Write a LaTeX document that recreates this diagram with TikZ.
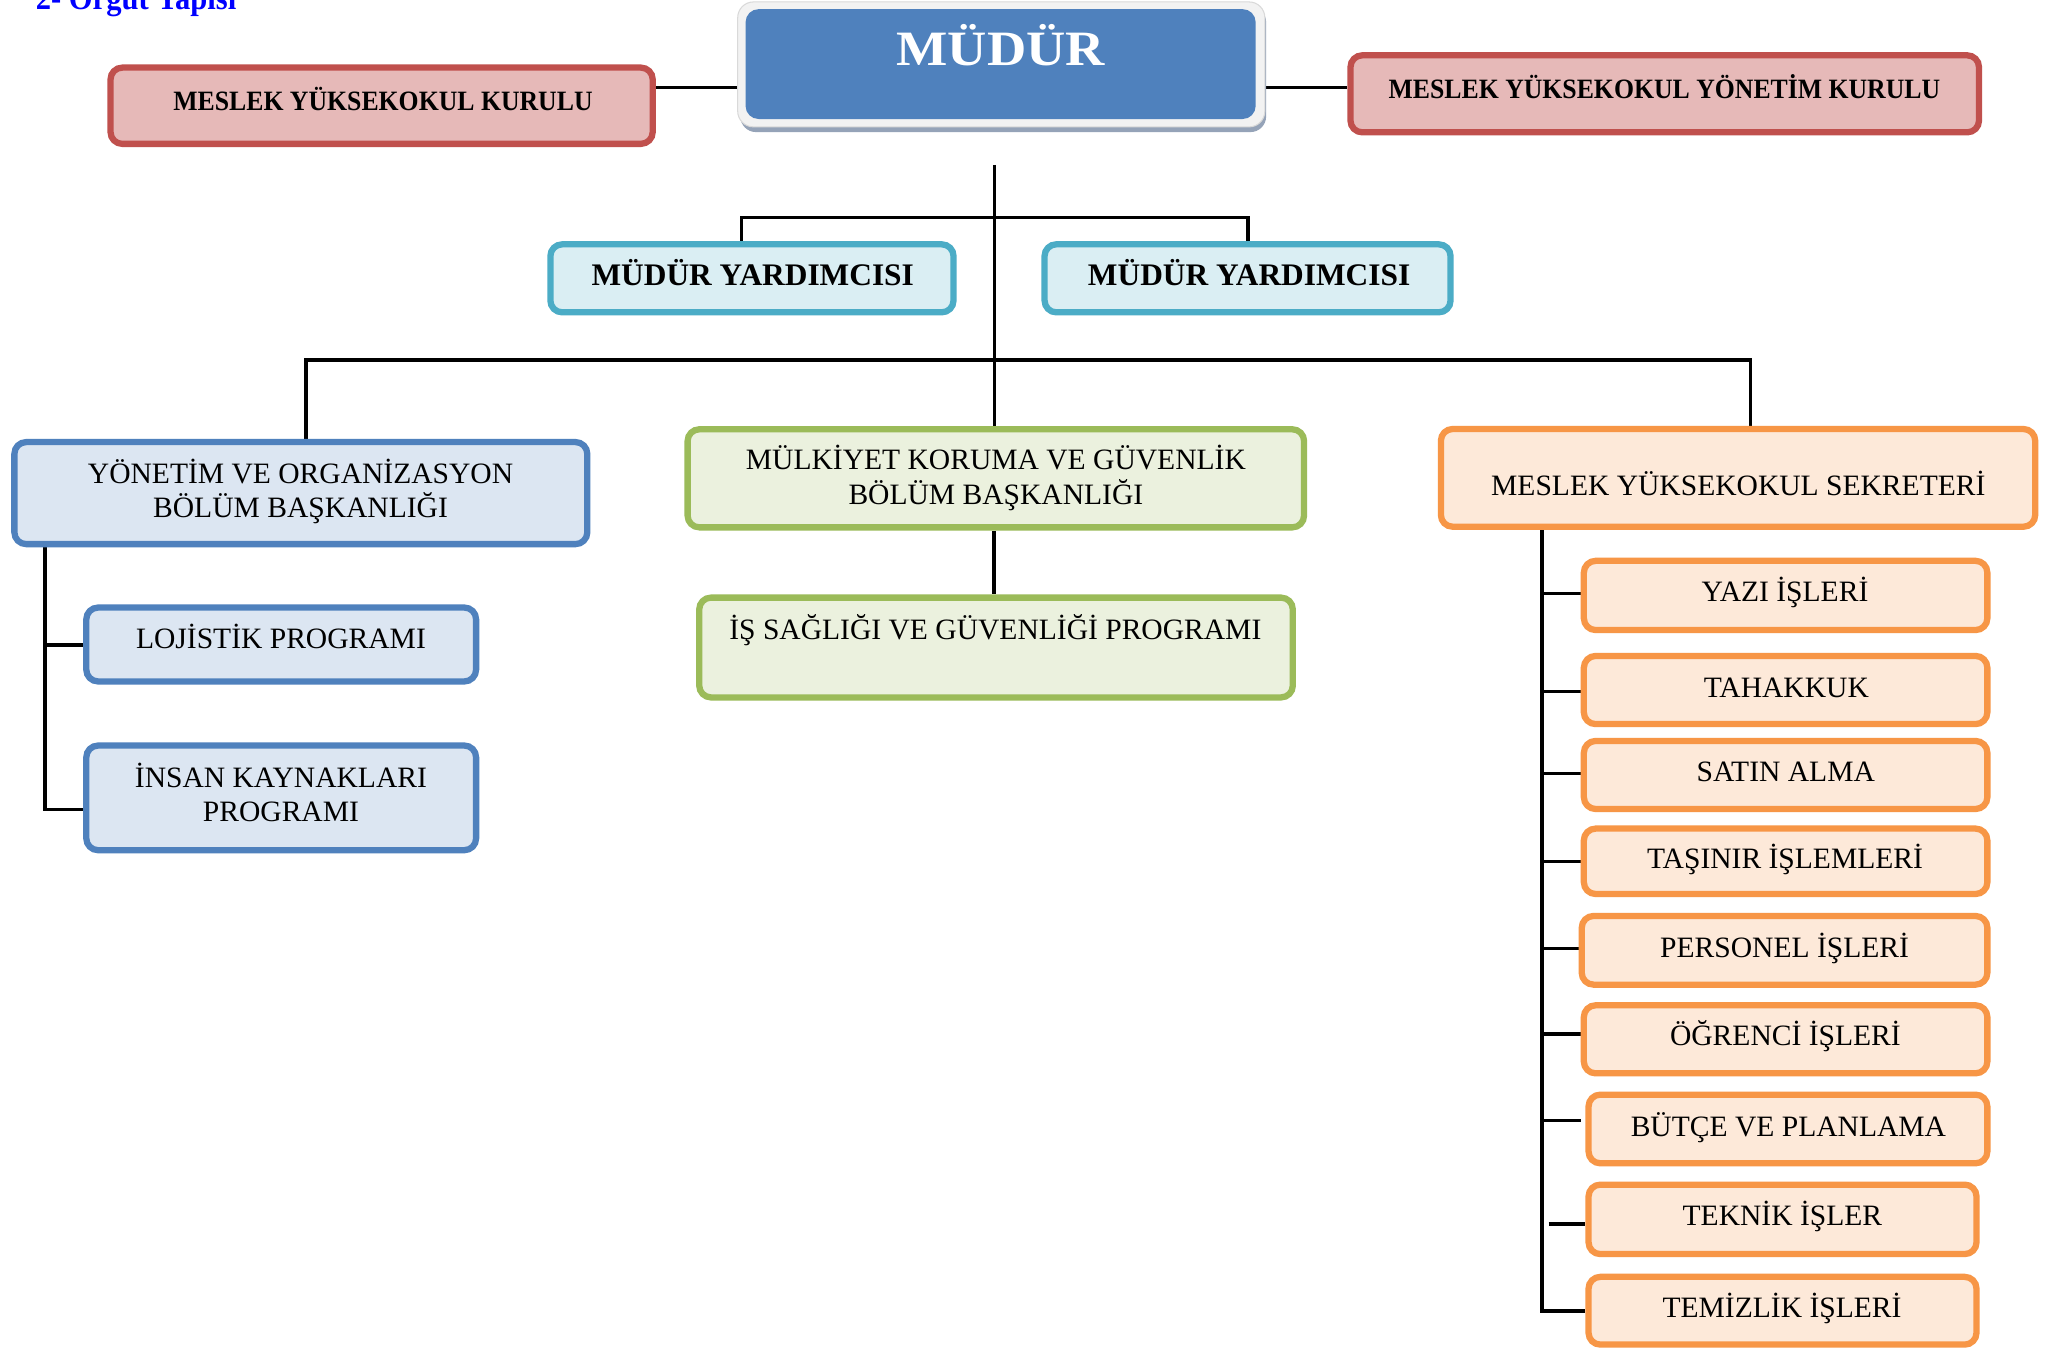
\documentclass[tikz,border=0pt]{standalone}
\usepackage{fontspec}
\setmainfont{Liberation Serif}
\newfontfamily\cbf[FakeStretch=0.92]{Liberation Serif}
\newfontfamily\wbf[FakeStretch=1.1]{Liberation Serif}
\usetikzlibrary{fit}
\pgfdeclarelayer{bottom}
\pgfdeclarelayer{background}
\pgfsetlayers{bottom,background,main}
\definecolor{redB}{HTML}{C0504D}
\definecolor{redF}{HTML}{E6B9B8}
\definecolor{cyaB}{HTML}{4BACC6}
\definecolor{cyaF}{HTML}{DAEEF3}
\definecolor{bluB}{HTML}{4F81BD}
\definecolor{bluF}{HTML}{DCE6F2}
\definecolor{greB}{HTML}{9BBB59}
\definecolor{greF}{HTML}{EBF1DE}
\definecolor{oraB}{HTML}{F79646}
\definecolor{oraF}{HTML}{FDE9D9}
\definecolor{mudB}{HTML}{4F81BD}
\definecolor{frameC}{HTML}{F2F2F2}
\definecolor{frameE}{HTML}{D9D9D9}
\definecolor{shadowC}{HTML}{95A3B8}
\definecolor{titleC}{HTML}{0000FF}
\begin{document}
\begin{tikzpicture}[x=0.5pt,y=-0.5pt,
  bx/.style={draw, rounded corners=4.5pt, line width=2.4pt, inner sep=0pt},
  redbox/.style={bx, draw=redB, fill=redF},
  cyabox/.style={bx, draw=cyaB, fill=cyaF},
  blubox/.style={bx, draw=bluB, fill=bluF},
  grebox/.style={bx, draw=greB, fill=greF},
  orabox/.style={bx, draw=oraB, fill=oraF},
  conn/.style={draw=black, line width=1.3pt},
  txt/.style={inner sep=0pt, anchor=base, font=\fontsize{11.3}{13}\selectfont},
  btxt/.style={inner sep=0pt, anchor=base, font=\cbf\bfseries\fontsize{10.7}{13}\selectfont},
  wtxt/.style={inner sep=0pt, anchor=base, font=\bfseries\fontsize{12}{14}\selectfont},
]
\useasboundingbox (0,0) rectangle (1565,1030.6);
\begin{pgfonlayer}{bottom}
\fill[white] (0,0) rectangle (1565,1030.6);
\end{pgfonlayer}

% title (cut at the top edge)
\node[inner sep=0pt, anchor=base west, text=titleC, font=\cbf\bfseries\fontsize{12.7}{14}\selectfont] (title) at (27,7.5) {2- Örgüt Yapısı};

% MUDUR
\node[fit={(566,5)(968,101)}, inner sep=0pt, fill=shadowC, rounded corners=6pt] (mudsh) {};
\node[fit={(564,1.5)(967,97)}, inner sep=0pt, fill=frameC, draw=frameE, line width=0.4pt, rounded corners=6pt] (mudfr) {};
\node[fit={(570,7)(960,91)}, inner sep=0pt, fill=mudB, rounded corners=5pt] (mud) {};
\node[inner sep=0pt, anchor=base, text=white, font=\wbf\bfseries\fontsize{18.9}{20}\selectfont] (mudt) at (765,50.2) {MÜDÜR};

% top side boxes
\node[redbox, fit={(84.5,51.7)(499,110)}] (kurul) {};
\node[btxt] (kurult) at (292.8,84.6) {MESLEK YÜKSEKOKUL KURULU};
\node[redbox, fit={(1032.5,42.3)(1513,101.2)}] (ykurul) {};
\node[btxt] (ykurult) at (1272.5,75) {MESLEK YÜKSEKOKUL YÖNETİM KURULU};

% vice directors
\node[cyabox, fit={(420.8,186.8)(729,238.8)}] (my1) {};
\node[wtxt] (my1t) at (575.5,218.5) {MÜDÜR YARDIMCISI};
\node[cyabox, fit={(798.6,186.8)(1109,238.8)}] (my2) {};
\node[wtxt] (my2t) at (955,218.5) {MÜDÜR YARDIMCISI};

% departments
\node[blubox, fit={(11,338)(449,416)}] (yon) {};
\node[txt] (yont1) at (229.8,370) {YÖNETİM VE ORGANİZASYON};
\node[txt] (yont2) at (229.8,395.5) {BÖLÜM BAŞKANLIĞI};

\node[grebox, fit={(525.7,328.2)(997,403.2)}] (mulk) {};
\node[txt] (mulkt1) at (761.4,359.3) {MÜLKİYET KORUMA VE GÜVENLİK};
\node[txt] (mulkt2) at (761.4,385.6) {BÖLÜM BAŞKANLIĞI};

\node[orabox, fit={(1101.6,328)(1556,402.7)}] (sekr) {};
\node[txt] (sekrt) at (1329,379.2) {MESLEK YÜKSEKOKUL SEKRETERİ};

% left programs
\node[blubox, fit={(66,464.5)(364,521)}] (loj) {};
\node[txt] (lojt) at (214.8,496) {LOJİSTİK PROGRAMI};
\node[blubox, fit={(66,570)(364,650)}] (insan) {};
\node[txt] (insant1) at (214.8,602) {İNSAN KAYNAKLARI};
\node[txt] (insant2) at (214.8,628) {PROGRAMI};

% middle program
\node[grebox, fit={(534.6,456.9)(988.4,533.2)}] (isg) {};
\node[txt] (isgt) at (761,489.3) {İŞ SAĞLIĞI VE GÜVENLİĞİ PROGRAMI};

% right units
\node[orabox, fit={(1210.9,428.8)(1519.4,481.7)}] (yazi) {};
\node[txt] (yazit) at (1364.7,460) {YAZI İŞLERİ};
\node[orabox, fit={(1210.9,501.5)(1519.4,553.6)}] (tah) {};
\node[txt] (taht) at (1365.7,533.1) {TAHAKKUK};
\node[orabox, fit={(1210.9,566.5)(1519.4,618.5)}] (satin) {};
\node[txt] (satint) at (1365.3,597.6) {SATIN ALMA};
\node[orabox, fit={(1210.9,633.5)(1519.4,683.5)}] (tas) {};
\node[txt] (tast) at (1364.7,663.8) {TAŞINIR İŞLEMLERİ};
\node[orabox, fit={(1209.3,700.3)(1519.4,752.8)}] (pers) {};
\node[txt] (perst) at (1364.4,731.9) {PERSONEL İŞLERİ};
\node[orabox, fit={(1210.9,768.6)(1519.4,820.6)}] (ogr) {};
\node[txt] (ogrt) at (1365,799.4) {ÖĞRENCİ İŞLERİ};
\node[orabox, fit={(1214.5,836.9)(1519.4,889.4)}] (butce) {};
\node[txt] (butcet) at (1367.3,869) {BÜTÇE VE PLANLAMA};
\node[orabox, fit={(1214.5,905.7)(1511.1,958.8)}] (tek) {};
\node[txt] (tekt) at (1362.7,937.3) {TEKNİK İŞLER};
\node[orabox, fit={(1214.5,976.2)(1511.1,1028)}] (tem) {};
\node[txt] (temt) at (1362.4,1007.1) {TEMİZLİK İŞLERİ};

% connectors
\coordinate (jKL) at (564,67);
\coordinate (jKR) at (968,67);
\coordinate (vtop) at (760.5,126);
\coordinate (vpL) at (567,166.5);
\coordinate (vpR) at (954,166.5);
\coordinate (bL) at (234,275.2);
\coordinate (bR) at (1338.5,275.2);
\coordinate (mx) at (760,0);
\coordinate (lt1) at (34.5,493);
\coordinate (lt2) at (34.5,619);
\coordinate (rx) at (1179,0);
\coordinate (r1) at (1179,453.6);
\coordinate (r2) at (1179,528.8);
\coordinate (r3) at (1179,591.2);
\coordinate (r4) at (1179,658.8);
\coordinate (r5) at (1179,725);
\coordinate (r6) at (1179,790.5);
\coordinate (r7) at (1179,856.8);
\coordinate (r7e) at (1208.5,856.8);
\coordinate (r8) at (1184,935.8);
\coordinate (r9) at (1179,1002.3);
\begin{pgfonlayer}{background}
\draw[conn] (kurul.east |- jKL) -- (jKL);
\draw[conn] (jKR) -- (jKR -| ykurul.west);
\draw[conn] (vtop) -- (vtop |- mulk.north);
\draw[conn] (vpL |- my1.north) -- (vpL) -- (vpR) -- (vpR |- my2.north);
\draw[conn] (bL |- yon.north) -- (bL) -- (bR) -- (bR |- sekr.north);
\draw[conn] (mx |- mulk.south) -- (mx |- isg.north);
\draw[conn] (lt1 |- yon.south) -- (lt2) -- (lt2 -| insan.west);
\draw[conn] (lt1) -- (lt1 -| loj.west);
\draw[conn] (rx |- sekr.south) -- (r9) -- (r9 -| tem.west);
\draw[conn] (r1) -- (r1 -| yazi.west);
\draw[conn] (r2) -- (r2 -| tah.west);
\draw[conn] (r3) -- (r3 -| satin.west);
\draw[conn] (r4) -- (r4 -| tas.west);
\draw[conn] (r5) -- (r5 -| pers.west);
\draw[conn] (r6) -- (r6 -| ogr.west);
\draw[conn] (r7) -- (r7e);
\draw[conn] (r8) -- (r8 -| tek.west);
\end{pgfonlayer}
\end{tikzpicture}
\end{document}
